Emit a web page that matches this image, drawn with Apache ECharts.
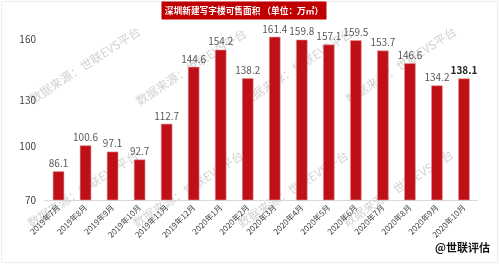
<!DOCTYPE html>
<html><head><meta charset="utf-8">
<script src="https://cdn.jsdelivr.net/npm/echarts@6/dist/echarts.min.js"></script>
<style>html,body{margin:0;padding:0;background:#fff}#c{width:500px;height:265px}</style>
</head><body><div id="c"></div>
<script>
var categories = ['2019年7月','2019年8月','2019年9月','2019年10月','2019年11月','2019年12月','2020年1月','2020年2月','2020年3月','2020年4月','2020年5月','2020年6月','2020年7月','2020年8月','2020年9月','2020年10月'];
var values = [86.1,100.6,97.1,92.7,112.7,144.6,154.2,138.2,161.4,159.8,157.1,159.5,153.7,146.6,134.2,138.1];
var yTicks = [70,100,130,160];
var titleText = '深圳新建写字楼可售面积 （单位：万㎡）';
var sourceText = '@世联评估';
var watermarkText = '数据来源：世联EVS平台';

var chart = echarts.init(document.getElementById('c'), null, {renderer:'canvas'});
var wmPos = [[85,65],[191,67],[297,67],[401,65],[83,189],[188,189],[293,189],[398,188]];
var graphics = wmPos.map(function(p){
  return {type:'text', x:p[0], y:p[1], rotation: 33*Math.PI/180, z:0, silent:true,
    style:{text:watermarkText, fill:'#d2d2d2', font:'12px "Noto Sans CJK SC"', align:'center', verticalAlign:'middle'}};
});
graphics.push({type:'rect', z:0, shape:{x:1.5,y:1.5,width:496,height:261}, style:{fill:'none', stroke:'#eeeeee', lineWidth:1}});
graphics.push({type:'rect', z:10, shape:{x:161.5,y:1.5,width:165,height:18}, style:{fill:'#C00000'}});
graphics.push({type:'text', z:11, x:244, y:10.5, style:{text:titleText, fill:'#ffffff', font:'bold 8.7px "Noto Sans CJK SC"', align:'center', verticalAlign:'middle'}});
graphics.push({type:'text', z:11, x:490, y:248, style:{text:sourceText, fill:'#111111', font:'bold 11px "Noto Sans CJK SC"', align:'right', verticalAlign:'middle'}});

chart.setOption({
  animation:false,
  graphic: graphics,
  grid:{left:45, right:22.5, top:3.6, bottom:65},
  xAxis:{type:'category', data:categories,
    axisLine:{show:true, lineStyle:{color:'#d9d9d9', width:1}},
    axisTick:{show:false},
    axisLabel:{rotate:45, fontSize:8, color:'#404040', margin:6, interval:0, fontFamily:'"Noto Sans CJK SC"'}},
  yAxis:{type:'value', min:70, max:180, interval:10,
    axisLine:{show:false}, axisTick:{show:false}, splitLine:{show:false},
    axisLabel:{fontSize:10, color:'#404040', margin:9, fontFamily:'"Noto Sans CJK SC"',
      showMaxLabel:false,
      rich:{low:{fontSize:10, color:'#404040', padding:[14,0,0,0], fontFamily:'"Noto Sans CJK SC"'}},
      formatter:function(v){
        if (yTicks.indexOf(v) < 0) return '';
        return v === 130 ? '{low|' + v + '}' : String(v);
      }}},
  series:[{type:'bar', data:values.map(function(v,i){
      return i === values.length-1 ? {value:v, label:{fontWeight:'bold', color:'#262626'}} : v;
    }),
    barWidth:11.5, z:5,
    itemStyle:{color:'#BE1016', borderColor:'#E29A9A', borderWidth:0.6},
    label:{show:true, position:'top', distance:3, fontSize:10, color:'#595959', fontFamily:'"Noto Sans CJK SC"',
      formatter:function(p){return p.value.toFixed(1);}}
  }]
});
</script></body></html>
